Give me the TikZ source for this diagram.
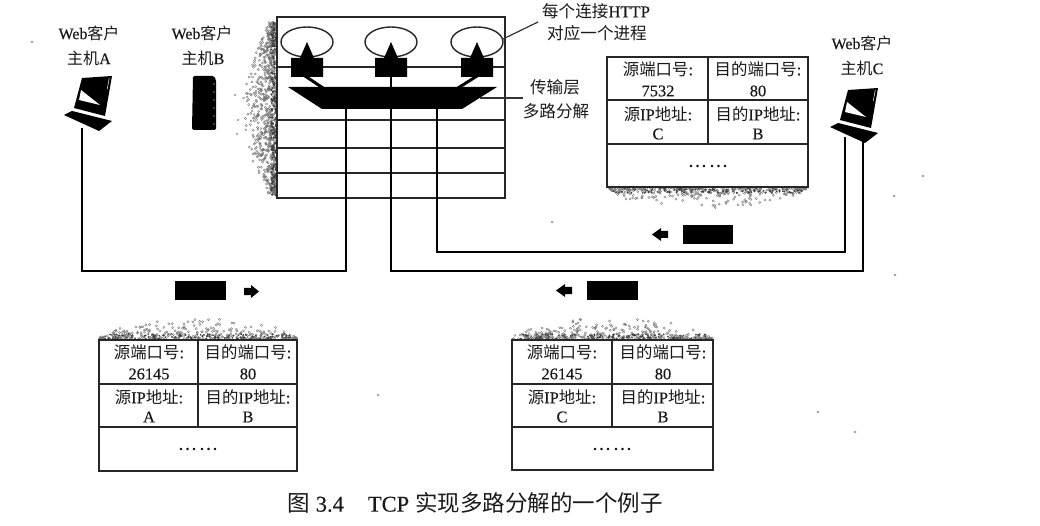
\documentclass[tikz,border=0pt]{standalone}
\usetikzlibrary{shapes.geometric}
\usepackage{fontspec}
\setmainfont{Liberation Serif}[FakeBold=0.3]
\newfontfamily\cjk{Noto Sans CJK SC}
\newcommand{\CJ}[1]{{\cjk #1}}
\newcommand{\dotrun}{.\kern3pt.\kern3pt.\kern4.5pt.\kern3pt.\kern3pt.}
\tikzset{
  gridline/.style={draw=black!85,line width=1.6pt},
  wire/.style={draw=black,line width=2.4pt},
  leadline/.style={draw=black!80,line width=1.2pt},
  ink/.style={fill=black,draw=none},
  lbl/.style={inner sep=0pt,font=\fontsize{16}{18}\selectfont,text=black!90},
  lblb/.style={inner sep=0pt,font=\fontsize{16.6}{18}\selectfont,text=black!90},
  cell/.style={inner sep=0pt,font=\fontsize{16.4}{18}\selectfont,text=black!90},
  captext/.style={inner sep=0pt,font=\fontsize{22.5}{24}\selectfont,text=black!90},
  speck/.style={draw=black!55,line width=.35pt},
  packet/.style={fill=black,draw=none,minimum width=51pt,minimum height=19pt,inner sep=0pt},
}
\newcommand{\hdrtable}[8]{%
  % #1 name, #2 x0, #3 xm, #4 x1, #5 y0, #6 y1, #7 y2, #8 y3
  \draw[gridline] (#2,#5) rectangle (#4,#8);
  \draw[gridline] (#2,#6) -- (#4,#6);
  \draw[gridline] (#2,#7) -- (#4,#7);
  \draw[gridline] (#3,#5) -- (#3,#7);
}
\newcommand{\cells}[9]{%
  % #1 name, #2 xl, #3 xr, #4 ytop, #5 src port, #6 src ip, #7 dst ip, #8 xc dots #9 dots y
  \node[cell] (#1a) at (#2,#4+12) {\CJ{源端口号}:};
  \node[cell] (#1b) at (#2,#4+34) {#5};
  \node[cell] (#1c) at (#3,#4+12) {\CJ{目的端口号}:};
  \node[cell] (#1d) at (#3,#4+34) {80};
  \node[cell] (#1e) at (#2,#4+57) {\CJ{源}IP\CJ{地址}:};
  \node[cell] (#1f) at (#2,#4+77) {#6};
  \node[cell] (#1g) at (#3,#4+57) {\CJ{目的}IP\CJ{地址}:};
  \node[cell] (#1h) at (#3,#4+77) {#7};
  \node[cell,font=\fontsize{14}{14}\selectfont\bfseries] (#1i) at (#8,#9) {\dotrun};
}
\newcommand{\laptop}[2]{%
  \begin{scope}[shift={(#1,#2)}]
    \fill[ink] (0,0) -- (30,-2) -- (23,38) -- (-8,30) -- cycle;
    \fill[white] (-1,12) -- (18,27) -- (-3,22) -- cycle;
    \fill[white] (27.5,0) -- (25.5,11) -- (25,11) -- (27,0) -- cycle;
    \fill[ink] (-18,37) -- (-10,33) -- (30,43) -- (17,53) -- cycle;
  \end{scope}}
\begin{document}
\begin{tikzpicture}[x=1pt,y=-1pt]
\useasboundingbox[fill=white] (0,0) rectangle (1040,526);
% speckled shadows
\pgfmathsetseed{4242}
\foreach \i in {1,...,750}{
  \pgfmathsetmacro\ty{rnd}
  \pgfmathsetmacro\wd{34*sin(180*(0.08+0.84*\ty))}
  \pgfmathsetmacro\px{276-\wd*rnd*sqrt(rnd)}
  \pgfmathsetmacro\py{22+172*\ty}
  \draw[speck] (\px,\py) circle (1.1);
}
\foreach \i in {1,...,170}{
  \pgfmathsetmacro\py{20+176*rnd}
  \pgfmathsetmacro\px{276-5*rnd}
  \fill[black!75] (\px,\py) circle (1.1);
}
\foreach \xa/\wa/\ya/\sg in {607/201/187/1, 99/198/340/-1, 512/201/340/-1}{
  \foreach \i in {1,...,320}{
    \pgfmathsetmacro\tx{rnd}
    \pgfmathsetmacro\hg{24*sin(180*\tx)^.6}
    \pgfmathsetmacro\px{\xa+\wa*\tx}
    \pgfmathsetmacro\py{\ya+\sg*(1+\hg*rnd*rnd)}
    \draw[speck] (\px,\py) circle (1.1);
  }
  \foreach \i in {1,...,120}{
    \pgfmathsetmacro\px{\xa+6+(\wa-12)*rnd}
    \pgfmathsetmacro\py{\ya+\sg*(1+5*rnd)}
    \fill[black!75] (\px,\py) circle (1);
  }
}
% host
\coordinate (hTL) at (277,17); \coordinate (hBR) at (505,198);
\draw[gridline] (hTL) rectangle (hBR);
\foreach \yy in {67,120,148,173} \draw[gridline] (277,\yy) -- (505,\yy);
% processes
\foreach \cx/\nm in {307/P1,391/P2,477/P3}{
  \node[draw=black!85,line width=1.4pt,ellipse,minimum width=52pt,minimum height=30pt,inner sep=0pt] (\nm) at (\cx,42) {};
}
\foreach \cx in {307,391,477}{
  \fill[ink] (\cx-16,77) -- (\cx-16,58) -- (\cx-7,58) -- (\cx,42) -- (\cx+7,58) -- (\cx+16,58) -- (\cx+16,77) -- cycle;
}
% demultiplexer
\fill[ink] (288,87) -- (497,87) -- (462,109) -- (322,109) -- cycle;
\coordinate (dm1) at (323,88); \coordinate (dm3) at (458,88);
\coordinate (s1) at (305,76); \coordinate (s2) at (391,76); \coordinate (s3) at (477,76);
\coordinate (dm2) at (391,88);
\draw[wire,line width=3pt] (s1) -- (dm1);
\draw[wire] (s2) -- (dm2);
\draw[wire,line width=3pt] (s3) -- (dm3);
% connectors
\coordinate (d1) at (346,108); \coordinate (d2) at (391,108); \coordinate (d3) at (437,108);
\coordinate (pA) at (82,128); \coordinate (pCa) at (845,137); \coordinate (pCb) at (863,137);
\draw[wire] (d1) -- (346,271) -- (82,271) -- (pA);
\draw[wire] (d2) -- (391,271) -- (863,271) -- (pCb);
\draw[wire] (d3) -- (437,252) -- (845,252) -- (pCa);
% leaders
\coordinate (l1a) at (503,39); \coordinate (l1b) at (538,22);
\draw[leadline] (l1a) -- (l1b);
\coordinate (l2a) at (480,98); \coordinate (l2b) at (523,98);
\draw[leadline] (l2a) -- (l2b);
% labels
\node[lblb] (t1) at (596,11) {\CJ{每个连接}HTTP};
\node[lblb] (t2) at (597,33) {\CJ{对应一个进程}};
\node[lblb] (t3) at (555,87) {\CJ{传输层}};
\node[lblb] (t4) at (556,111) {\CJ{多路分解}};
\node[lbl] (a1) at (89,33) {Web\CJ{客户}};
\node[lbl] (a2) at (89,58) {\CJ{主机}A};
\node[lbl] (b1) at (202,33) {Web\CJ{客户}};
\node[lbl] (b2) at (203,58) {\CJ{主机}B};
\node[lbl] (c1) at (862,43) {Web\CJ{客户}};
\node[lbl] (c2) at (862,68) {\CJ{主机}C};
% hosts
\laptop{82}{78}
\laptop{848}{90}
\fill[ink,rounded corners=1.5pt] (193,76) -- (214,76) -- (216,80) -- (216,130) -- (192,130) -- cycle;
\foreach \yy in {84,92,100,108,116,124} \fill[white] (214,\yy) circle (.6);
% packets
\node[packet] (pk1) at (200.5,290.5) {};
\node[packet] (pk2) at (612,290.5) {};
\node[packet,minimum width=50pt] (pk3) at (708,234.5) {};
\fill[ink] (244,288) -- (251,288) -- (251,285) -- (259,291.5) -- (251,298) -- (251,295) -- (244,295) -- cycle;
\fill[ink] (572,287) -- (565,287) -- (565,284) -- (556,290.5) -- (565,297) -- (565,294) -- (572,294) -- cycle;
\fill[ink] (668,231) -- (661,231) -- (661,228) -- (652,234.5) -- (661,241) -- (661,238) -- (668,238) -- cycle;
% tables
\hdrtable{T1}{607}{708}{808}{57}{100}{144}{187}
\hdrtable{T2}{99}{198}{297}{340}{384}{427}{471}
\hdrtable{T3}{512}{612}{713}{340}{384}{427}{470}
\cells{u}{658}{758}{57}{7532}{C}{B}{708}{166}
\cells{v}{149}{248}{340}{26145}{A}{B}{198}{449}
\cells{w}{562}{663}{340}{26145}{C}{B}{612}{449}
% caption
\node[captext] (cp) at (475,503) {\CJ{图}\hspace{6pt}3.4\hspace{24pt}TCP\hspace{6pt}\CJ{实现多路分解的一个例子}};
% stray specks
\foreach \sx/\sy in {32/42,235/95,238/120,237/134,894/196,895/275,855/432,818/412,923/176,552/222,378/395}
  \draw[speck] (\sx,\sy) circle (1);
\end{tikzpicture}
\end{document}
